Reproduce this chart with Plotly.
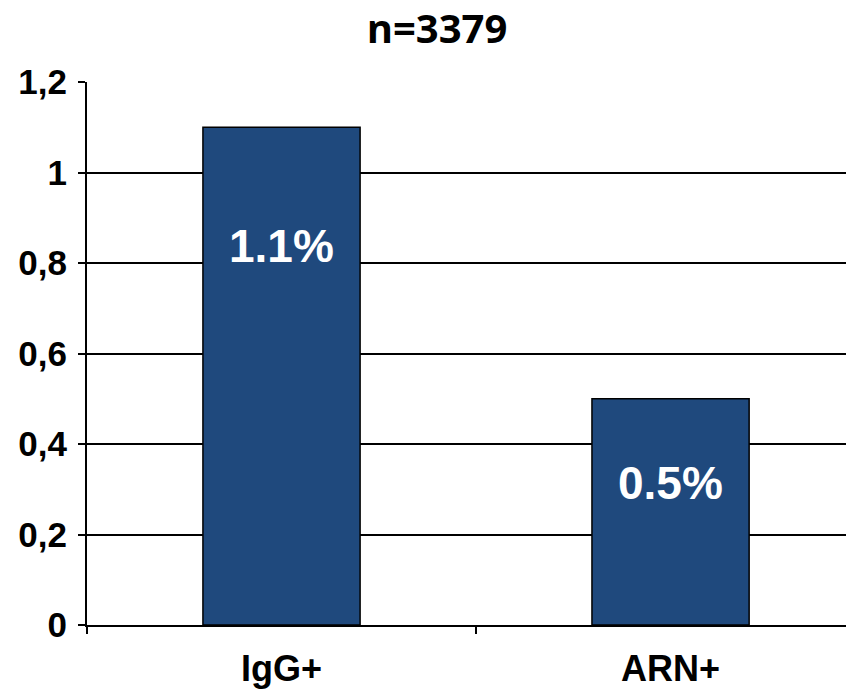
import plotly.graph_objects as go

# Prevalence by marker (n=3379)
categories = ["IgG+", "ARN+"]
values = [1.1, 0.5]
value_labels = ["1.1%", "0.5%"]
title_text = "n=3379"

# vertical placement of the in-bar labels (data units)
label_y = [0.838, 0.314]

BAR_COLOR = "#1F497D"

fig = go.Figure()
fig.add_trace(go.Bar(
    x=categories,
    y=values,
    width=0.404,
    marker=dict(color=BAR_COLOR, line=dict(color="black", width=1.5)),
    hoverinfo="skip",
))

for cat, txt, ly in zip(categories, value_labels, label_y):
    fig.add_annotation(
        x=cat, y=ly, text=txt, showarrow=False,
        xanchor="center", yanchor="middle",
        font=dict(family="Liberation Sans, Arial", size=46, color="white", weight="bold"),
    )

fig.update_layout(
    width=846, height=689,
    margin=dict(l=87, r=0, t=82, b=61),
    paper_bgcolor="white", plot_bgcolor="white",
    separators=",.",
    showlegend=False,
    title=dict(
        text=title_text,
        x=437 / 846, xref="container", xanchor="center",
        y=1 - 29 / 689, yref="container", yanchor="middle",
        font=dict(family="Open Sans", size=40, color="black", weight="bold"),
    ),
    bargap=0.6,
)

fig.update_xaxes(
    type="category",
    range=[-0.5, 1.451],
    showline=True, linecolor="black", linewidth=2,
    ticks="outside", tickson="boundaries", ticklen=7, tickwidth=1.5, tickcolor="black",
    showgrid=False, zeroline=False,
    tickfont=dict(family="Liberation Sans, Arial", size=36, color="black", weight="bold"),
    ticklabelstandoff=11,
)

fig.update_yaxes(
    range=[0, 1.2], dtick=0.2, tick0=0,
    showline=True, linecolor="black", linewidth=2,
    ticks="outside", ticklen=7, tickwidth=1.5, tickcolor="black",
    showgrid=True, gridcolor="black", gridwidth=1.7,
    zeroline=False,
    tickfont=dict(family="Liberation Sans, Arial", size=35, color="black", weight="bold"),
    ticklabelstandoff=4,
)

fig.write_html("out.html")
